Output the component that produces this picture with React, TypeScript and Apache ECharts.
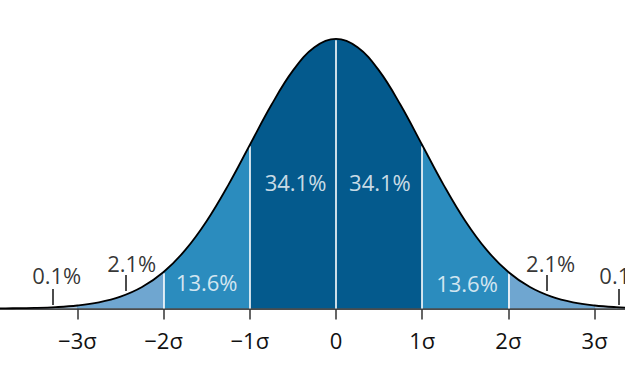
import React, { useEffect, useRef } from "react";
import * as echarts from "echarts";

// z positions (in σ) and standard normal density
const zValues = [
  -4, -3.75, -3.5, -3.25, -3, -2.75, -2.5, -2.25, -2, -1.75, -1.5, -1.25, -1, -0.75, -0.5, -0.25,
  0, 0.25, 0.5, 0.75, 1, 1.25, 1.5, 1.75, 2, 2.25, 2.5, 2.75, 3, 3.25, 3.5,
];
const density = [
  0.00013, 0.00035, 0.00087, 0.00203, 0.00443, 0.00909, 0.01753, 0.03174, 0.05399, 0.08628,
  0.12952, 0.18265, 0.24197, 0.30114, 0.35207, 0.38667, 0.39894, 0.38667, 0.35207, 0.30114,
  0.24197, 0.18265, 0.12952, 0.08628, 0.05399, 0.03174, 0.01753, 0.00909, 0.00443, 0.00203,
  0.00087,
];

// axis ticks
const tickValues = [-3, -2, -1, 0, 1, 2, 3];
const tickLabels = ["−3σ", "−2σ", "−1σ", "0", "1σ", "2σ", "3σ"];

// band boundaries and colours
const dividers = [-2, -1, 0, 1, 2];
const bandEdges = [-3, -2, -1, 0, 1, 2, 3];
const bandColors = ["#a9c6df", "#6fa6d0", "#2b8cbe", "#045a8d", "#045a8d", "#2b8cbe", "#6fa6d0", "#a9c6df"];

// inner percentage labels (centred in bands)
const innerLabels = ["13.6%", "34.1%", "34.1%", "13.6%"];
const innerX = [-1.5, -0.47, 0.51, 1.52];
const innerY = [0.039, 0.187, 0.187, 0.038];

// tail annotations: text, tick x, tick bottom, tick top, text x, text y
const tailLabels = ["0.1%", "2.1%", "2.1%", "0.1%"];
const tailTickX = [-3.29, -2.44, 2.44, 3.28];
const tailTickY0 = [0.0052, 0.0259, 0.0259, 0.0052];
const tailTickY1 = [0.0289, 0.0496, 0.0496, 0.0289];
const tailTextX = [-3.24, -2.37, 2.49, 3.34];
const tailTextY = [0.0496, 0.0673, 0.0673, 0.0496];

export default function App() {
  const ref = useRef<HTMLDivElement>(null);
  useEffect(() => {
    if (!ref.current) return;
    const chart = echarts.init(ref.current, null, { renderer: "svg" });
    const pts = zValues.map((z, i) => [z, density[i]]);
    const densAt = (x: number) => density[zValues.indexOf(x)];

    const pieces: any[] = [];
    pieces.push({ lt: bandEdges[0], color: bandColors[0] });
    for (let i = 0; i < bandEdges.length - 1; i++) {
      pieces.push({ gte: bandEdges[i], lt: bandEdges[i + 1], color: bandColors[i + 1] });
    }
    pieces.push({ gte: bandEdges[bandEdges.length - 1], color: bandColors[bandColors.length - 1] });

    const font = "'Open Sans', 'Noto Sans', sans-serif";

    chart.setOption({
      animation: false,
      grid: { left: 0, right: 0, top: 0, bottom: 66.5 },
      xAxis: {
        type: "value",
        min: -3.898,
        max: 3.353,
        splitLine: { show: false },
        axisLine: { show: true, onZero: false, lineStyle: { color: "#111", width: 1.6 } },
        axisTick: {
          show: true,
          customValues: tickValues,
          length: 11,
          lineStyle: { color: "#333", width: 1.5 },
        },
        axisLabel: {
          customValues: tickValues,
          formatter: (v: number) => tickLabels[tickValues.indexOf(v)] ?? "",
          fontSize: 22,
          fontFamily: font,
          color: "#111",
          margin: 20,
        },
      },
      yAxis: { type: "value", min: 0, max: 0.4566, show: false },
      visualMap: {
        show: false,
        type: "piecewise",
        dimension: 0,
        seriesIndex: 0,
        pieces,
      },
      series: [
        {
          type: "line",
          data: pts,
          smooth: 0.4,
          showSymbol: false,
          z: 2,
          lineStyle: { width: 0 },
          areaStyle: { opacity: 1 },
          markLine: {
            silent: true,
            symbol: "none",
            z: 3,
            label: { show: false },
            lineStyle: { color: "#ffffff", width: 1.6, type: "solid" },
            data: dividers.map((d) => [
              { coord: [d, 0] },
              { coord: [d, densAt(d) - 0.002] },
            ]),
          },
        },
        {
          type: "line",
          data: pts,
          smooth: 0.4,
          showSymbol: false,
          z: 4,
          lineStyle: { color: "#000", width: 1.8 },
          markLine: {
            silent: true,
            symbol: "none",
            label: { show: false },
            lineStyle: { color: "#111", width: 1.5, type: "solid" },
            data: tailTickX.map((x, i) => [
              { coord: [x, tailTickY0[i]] },
              { coord: [x, tailTickY1[i]] },
            ]),
          },
        },
        {
          type: "scatter",
          symbolSize: 0,
          z: 5,
          data: [
            ...innerLabels.map((t, i) => ({
              name: t,
              value: [innerX[i], innerY[i]],
              label: { color: "#ffffff" },
            })),
            ...tailLabels.map((t, i) => ({
              name: t,
              value: [tailTextX[i], tailTextY[i]],
              label: { color: "#000000" },
            })),
          ],
          label: {
            show: true,
            position: "inside",
            formatter: (p: any) => p.name,
            fontSize: 22,
            fontFamily: font,
          },
        },
      ],
    });
    return () => chart.dispose();
  }, []);
  return (
    <div
      ref={ref}
      style={{ position: "fixed", left: 0, top: 0, width: 625, height: 375, background: "#fff" }}
    />
  );
}
